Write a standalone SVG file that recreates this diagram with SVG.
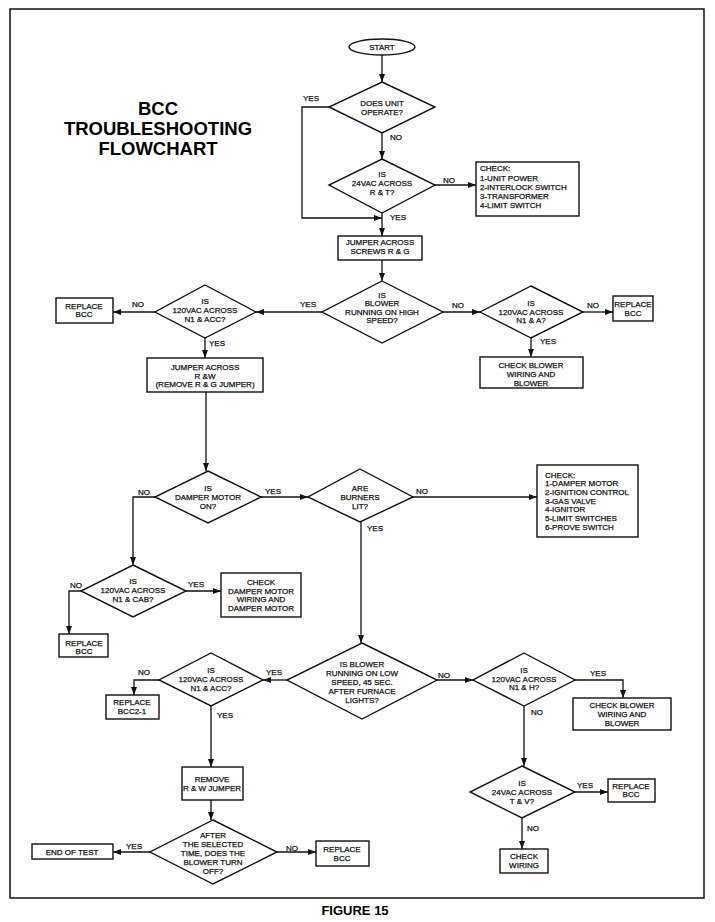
<svg xmlns="http://www.w3.org/2000/svg" width="715" height="922" viewBox="0 0 715 922">
<style>
.s{fill:#fff;stroke:#111;stroke-width:1.4}
.t{font-family:"Liberation Sans",Arial,sans-serif;font-size:8px;fill:#111;stroke:#111;stroke-width:0.25;text-anchor:middle}
.l{font-family:"Liberation Sans",Arial,sans-serif;font-size:8px;fill:#111;stroke:#111;stroke-width:0.25}
.c{fill:none;stroke:#111;stroke-width:1.3;marker-end:url(#a)}
.h{font-family:"Liberation Sans",Arial,sans-serif;font-weight:bold;fill:#000;text-anchor:middle}
</style>
<defs>
<marker id="a" markerUnits="userSpaceOnUse" markerWidth="8" markerHeight="6" refX="8" refY="3" orient="auto"><path d="M0,0 L8,3 L0,6 z" fill="#111"/></marker>
</defs>
<rect x="0" y="0" width="715" height="922" fill="#fff"/>
<rect x="10" y="9" width="694" height="889" fill="none" stroke="#111" stroke-width="1.5"/>
<g id="title">
<text class="h" x="158" y="115" font-size="18.5">BCC</text>
<text class="h" x="158" y="135" font-size="18.5">TROUBLESHOOTING</text>
<text class="h" x="158" y="155" font-size="18.5">FLOWCHART</text>
</g>
<text class="h" x="355" y="915" font-size="13">FIGURE 15</text>

<g id="connectors">
<path class="c" d="M382,55 V82"/>
<path class="c" d="M382,133 V159"/>
<path class="c" d="M329,107 H302 V218 H382"/>
<path class="c" d="M435,185 H476"/>
<path class="c" d="M382,213 V236"/>
<path class="c" d="M382,260 V281"/>
<path class="c" d="M322,312 H256"/>
<path class="c" d="M155,312 H113"/>
<path class="c" d="M205,338 V358"/>
<path class="c" d="M443,312 H480"/>
<path class="c" d="M583,312 H613"/>
<path class="c" d="M531,338 V357"/>
<path class="c" d="M206,392 V471"/>
<path class="c" d="M261,497 H308"/>
<path class="c" d="M155,497 H133 V565"/>
<path class="c" d="M413,497 H537"/>
<path class="c" d="M361,522 V643"/>
<path class="c" d="M81,591 H69 V634"/>
<path class="c" d="M186,591 H221"/>
<path class="c" d="M287,680 H263"/>
<path class="c" d="M159,680 H134 V695"/>
<path class="c" d="M211,706 V767"/>
<path class="c" d="M437,680 H473"/>
<path class="c" d="M575,680 H623 V698"/>
<path class="c" d="M524,706 V766"/>
<path class="c" d="M575,792 H608"/>
<path class="c" d="M522,818 V849"/>
<path class="c" d="M211,800 V820"/>
<path class="c" d="M150,852 H113"/>
<path class="c" d="M277,852 H316"/>
<g id="labels">
<text class="l" x="303" y="101">YES</text>
<text class="l" x="390" y="140">NO</text>
<text class="l" x="443" y="183">NO</text>
<text class="l" x="390" y="220">YES</text>
<text class="l" x="300" y="307">YES</text>
<text class="l" x="132" y="307">NO</text>
<text class="l" x="209" y="346">YES</text>
<text class="l" x="452" y="308">NO</text>
<text class="l" x="587" y="308">NO</text>
<text class="l" x="540" y="344">YES</text>
<text class="l" x="265" y="494">YES</text>
<text class="l" x="138" y="495">NO</text>
<text class="l" x="416" y="494">NO</text>
<text class="l" x="367" y="531">YES</text>
<text class="l" x="70" y="588">NO</text>
<text class="l" x="188" y="587">YES</text>
<text class="l" x="266" y="675">YES</text>
<text class="l" x="138" y="675">NO</text>
<text class="l" x="217" y="718">YES</text>
<text class="l" x="438" y="678">NO</text>
<text class="l" x="590" y="676">YES</text>
<text class="l" x="531" y="715">NO</text>
<text class="l" x="577" y="788">YES</text>
<text class="l" x="527" y="831">NO</text>
<text class="l" x="126" y="849">YES</text>
<text class="l" x="286" y="851">NO</text>
</g>
</g>

<g id="start">
<ellipse class="s" cx="382" cy="47" rx="33" ry="8"/>
<text class="t" x="382" y="50">START</text>
</g>
<g id="d1">
<path class="s" d="M382,82 L435,107 L382,133 L329,107 Z"/>
<text class="t" x="382" y="106">DOES UNIT</text>
<text class="t" x="382" y="115">OPERATE?</text>
</g>
<g id="d2">
<path class="s" d="M382,159 L435,185 L382,213 L329,185 Z"/>
<text class="t" x="382" y="177">IS</text>
<text class="t" x="382" y="186">24VAC ACROSS</text>
<text class="t" x="382" y="195">R &amp; T?</text>
</g>
<g id="check1">
<rect class="s" x="476" y="162" width="103" height="54"/>
<text class="l" x="480" y="171">CHECK:</text>
<text class="l" x="480" y="181">1-UNIT POWER</text>
<text class="l" x="480" y="190">2-INTERLOCK SWITCH</text>
<text class="l" x="480" y="199">3-TRANSFORMER</text>
<text class="l" x="480" y="208">4-LIMIT SWITCH</text>
</g>
<g id="jumper1">
<rect class="s" x="338" y="236" width="84" height="24"/>
<text class="t" x="380" y="245">JUMPER ACROSS</text>
<text class="t" x="380" y="254">SCREWS R &amp; G</text>
</g>
<g id="d3">
<path class="s" d="M382,281 L443,312 L382,343 L322,312 Z"/>
<text class="t" x="382" y="298">IS</text>
<text class="t" x="382" y="306">BLOWER</text>
<text class="t" x="382" y="315">RUNNING ON HIGH</text>
<text class="t" x="382" y="323">SPEED?</text>
</g>
<g id="d4">
<path class="s" d="M205,285 L256,312 L205,338 L155,312 Z"/>
<text class="t" x="205" y="304">IS</text>
<text class="t" x="205" y="313">120VAC ACROSS</text>
<text class="t" x="205" y="322">N1 &amp; ACC?</text>
</g>
<g id="replace1">
<rect class="s" x="56" y="298" width="57" height="25"/>
<text class="t" x="84" y="309">REPLACE</text>
<text class="t" x="84" y="317">BCC</text>
</g>
<g id="jumper2">
<rect class="s" x="147" y="358" width="116" height="34"/>
<text class="t" x="205" y="370">JUMPER ACROSS</text>
<text class="t" x="205" y="379">R &amp;W</text>
<text class="t" x="205" y="387">(REMOVE R &amp; G JUMPER)</text>
</g>
<g id="d5">
<path class="s" d="M531,286 L583,312 L531,338 L480,312 Z"/>
<text class="t" x="531" y="306">IS</text>
<text class="t" x="531" y="315">120VAC ACROSS</text>
<text class="t" x="531" y="323">N1 &amp; A?</text>
</g>
<g id="replace2">
<rect class="s" x="613" y="296" width="40" height="25"/>
<text class="t" x="633" y="307">REPLACE</text>
<text class="t" x="633" y="316">BCC</text>
</g>
<g id="checkblower1">
<rect class="s" x="480" y="357" width="103" height="31"/>
<text class="t" x="531" y="368">CHECK BLOWER</text>
<text class="t" x="531" y="377">WIRING AND</text>
<text class="t" x="531" y="386">BLOWER</text>
</g>
<g id="damper">
<path class="s" d="M208,471 L261,497 L208,523 L155,497 Z"/>
<text class="t" x="208" y="491">IS</text>
<text class="t" x="208" y="500">DAMPER MOTOR</text>
<text class="t" x="208" y="509">ON?</text>
</g>
<g id="burners">
<path class="s" d="M360,469 L413,497 L360,522 L308,497 Z"/>
<text class="t" x="360" y="491">ARE</text>
<text class="t" x="360" y="500">BURNERS</text>
<text class="t" x="360" y="509">LIT?</text>
</g>
<g id="check2">
<rect class="s" x="537" y="465" width="101" height="72"/>
<text class="l" x="545" y="478">CHECK:</text>
<text class="l" x="545" y="486">1-DAMPER MOTOR</text>
<text class="l" x="545" y="495">2-IGNITION CONTROL</text>
<text class="l" x="545" y="504">3-GAS VALVE</text>
<text class="l" x="545" y="512">4-IGNITOR</text>
<text class="l" x="545" y="521">5-LIMIT SWITCHES</text>
<text class="l" x="545" y="530">6-PROVE SWITCH</text>
</g>
<g id="cab">
<path class="s" d="M133,565 L186,591 L133,617 L81,591 Z"/>
<text class="t" x="133" y="584">IS</text>
<text class="t" x="133" y="593">120VAC ACROSS</text>
<text class="t" x="133" y="602">N1 &amp; CAB?</text>
</g>
<g id="replace3">
<rect class="s" x="59" y="634" width="49" height="23"/>
<text class="t" x="84" y="646">REPLACE</text>
<text class="t" x="84" y="654">BCC</text>
</g>
<g id="checkdamper">
<rect class="s" x="221" y="573" width="80" height="44"/>
<text class="t" x="261" y="585">CHECK</text>
<text class="t" x="261" y="594">DAMPER MOTOR</text>
<text class="t" x="261" y="602">WIRING AND</text>
<text class="t" x="261" y="611">DAMPER MOTOR</text>
</g>
<g id="lowspeed">
<path class="s" d="M362,643 L437,680 L362,719 L287,680 Z"/>
<text class="t" x="362" y="667">IS BLOWER</text>
<text class="t" x="362" y="676">RUNNING ON LOW</text>
<text class="t" x="362" y="685">SPEED, 45 SEC.</text>
<text class="t" x="362" y="694">AFTER FURNACE</text>
<text class="t" x="362" y="703">LIGHTS?</text>
</g>
<g id="acc2">
<path class="s" d="M211,653 L263,680 L211,706 L159,680 Z"/>
<text class="t" x="211" y="673">IS</text>
<text class="t" x="211" y="682">120VAC ACROSS</text>
<text class="t" x="211" y="691">N1 &amp; ACC?</text>
</g>
<g id="replace4">
<rect class="s" x="106" y="695" width="53" height="24"/>
<text class="t" x="132" y="705">REPLACE</text>
<text class="t" x="132" y="714">BCC2-1</text>
</g>
<g id="n1h">
<path class="s" d="M524,653 L575,680 L524,706 L473,680 Z"/>
<text class="t" x="524" y="673">IS</text>
<text class="t" x="524" y="682">120VAC ACROSS</text>
<text class="t" x="524" y="690">N1 &amp; H?</text>
</g>
<g id="checkblower2">
<rect class="s" x="573" y="698" width="98" height="32"/>
<text class="t" x="622" y="708">CHECK BLOWER</text>
<text class="t" x="622" y="717">WIRING AND</text>
<text class="t" x="622" y="726">BLOWER</text>
</g>
<g id="tv">
<path class="s" d="M522,766 L575,792 L522,818 L470,792 Z"/>
<text class="t" x="522" y="786">IS</text>
<text class="t" x="522" y="795">24VAC ACROSS</text>
<text class="t" x="522" y="804">T &amp; V?</text>
</g>
<g id="replace5">
<rect class="s" x="608" y="779" width="47" height="23"/>
<text class="t" x="631" y="789">REPLACE</text>
<text class="t" x="631" y="797">BCC</text>
</g>
<g id="checkwiring">
<rect class="s" x="500" y="849" width="48" height="24"/>
<text class="t" x="524" y="859">CHECK</text>
<text class="t" x="524" y="868">WIRING</text>
</g>
<g id="remove">
<rect class="s" x="182" y="767" width="61" height="33"/>
<text class="t" x="212" y="782">REMOVE</text>
<text class="t" x="212" y="791">R &amp; W JUMPER</text>
</g>
<g id="after">
<path class="s" d="M213,820 L277,852 L213,884 L150,852 Z"/>
<text class="t" x="213" y="838">AFTER</text>
<text class="t" x="213" y="847">THE SELECTED</text>
<text class="t" x="213" y="856">TIME, DOES THE</text>
<text class="t" x="213" y="865">BLOWER TURN</text>
<text class="t" x="213" y="874">OFF?</text>
</g>
<g id="endtest">
<rect class="s" x="32" y="844" width="81" height="15"/>
<text class="t" x="72" y="855">END OF TEST</text>
</g>
<g id="replace6">
<rect class="s" x="316" y="841" width="53" height="25"/>
<text class="t" x="342" y="852">REPLACE</text>
<text class="t" x="342" y="861">BCC</text>
</g>
</svg>
